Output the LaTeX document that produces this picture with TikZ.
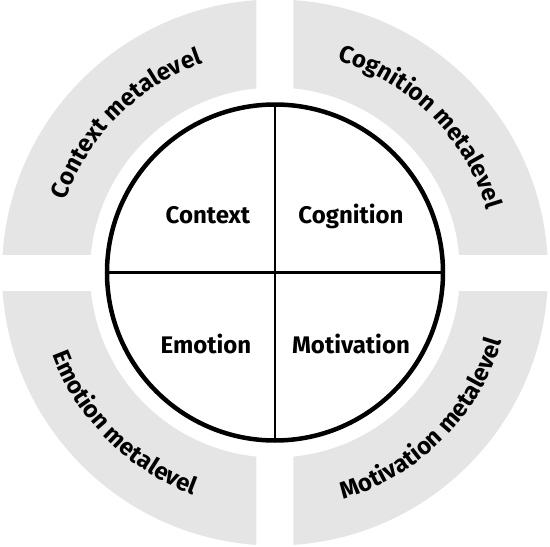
\documentclass[tikz,border=0pt]{standalone}
\usepackage{fontspec}
\setmainfont{Fira Sans}
\usetikzlibrary{decorations.text}

\tikzset{
	ring/.style={fill=gray!20, even odd rule},
	part/.style={font=\bfseries\fontsize{24}{28}\selectfont},
	metalabel/.style={decorate, decoration={text along path, text align=center,
		text={|\bfseries\fontsize{24}{28}\selectfont|#1}}}
}

\begin{document}
\begin{tikzpicture}[x=1pt,y=1pt]
			\useasboundingbox (-275,-274.5) rectangle (275,272.5);
			\coordinate (O) at (0,0);
			\def\rin{168}
			\def\ringa{185}
			\def\ringb{273}
			\def\gap{18.5}
			
			% grey outer ring, cut into four
			\foreach \sx/\sy in {1/1,-1/1,-1/-1,1/-1}{
				\begin{scope}
					\clip (\sx*\gap,\sy*\gap) rectangle (\sx*300,\sy*300);
					\fill[ring] (O) circle (\ringb) (O) circle (\ringa);
				\end{scope}
			}
			
			% circle and cross
			\draw[line width=4.5pt] (O) circle (\rin);
			\draw[line width=2.5pt] (-\rin,0) -- (\rin,0);
			\draw[line width=2.5pt] (0,-\rin) -- (0,\rin);
			
			\node[part, anchor=base] (context) at (-67,49.5) {Context};
			\node[part, anchor=base] (cognition) at (76,49.5) {Cognition};
			\node[part, anchor=base] (emotion) at (-69,-80.5) {Emotion};
			\node[part, anchor=base] (motivation) at (76,-80.5) {Motivation};
			
			\path[metalabel={Context metalevel}] (180:221) arc[start angle=180, end angle=90, radius=221];
			\path[metalabel={Cognition metalevel}] (90:221) arc[start angle=90, end angle=0, radius=221];
			\path[metalabel={Emotion metalevel}] (180:237) arc[start angle=180, end angle=270, radius=237];
			\path[metalabel={Motivation metalevel}] (270:237) arc[start angle=270, end angle=360, radius=237];

		\end{tikzpicture}
\end{document}
